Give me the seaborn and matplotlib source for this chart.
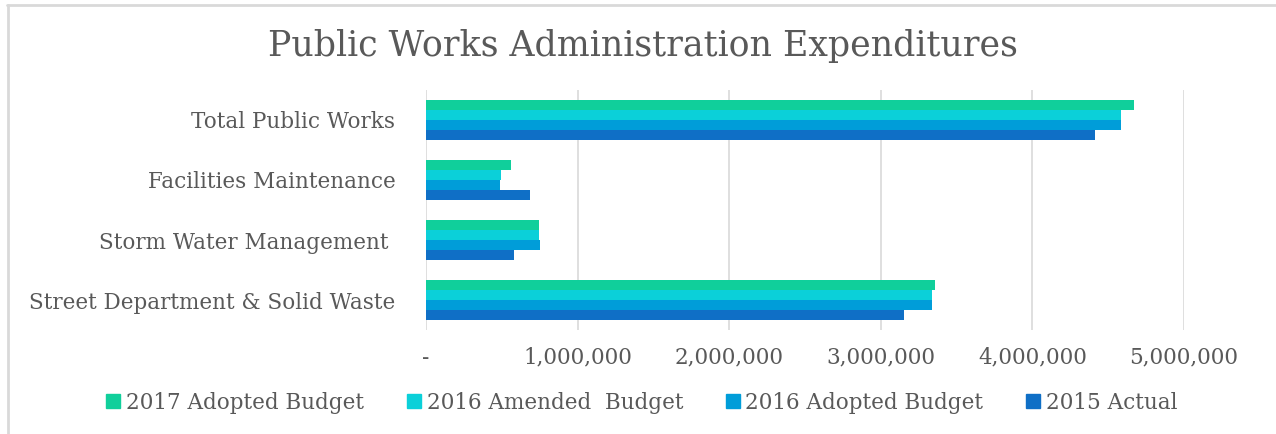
import matplotlib
matplotlib.use("Agg")
import matplotlib.pyplot as plt
from matplotlib.lines import Line2D
from matplotlib.ticker import FuncFormatter, MultipleLocator
import seaborn as sns
import pandas as pd

# Expenditure data (USD)
categories = [
    "Total Public Works",
    "Facilities Maintenance",
    "Storm Water Management ",
    "Street Department & Solid Waste",
]
series_names = [
    "2017 Adopted Budget",
    "2016 Amended  Budget",
    "2016 Adopted Budget",
    "2015 Actual",
]
adopted_2017 = [4670000, 563000, 748000, 3355000]
amended_2016 = [4584000, 497000, 748000, 3338000]
adopted_2016 = [4584000, 485000, 750000, 3338000]
actual_2015 = [4416000, 684000, 583000, 3152000]
series_colors = ["#10CF9B", "#0BD0D9", "#009DD9", "#0F6FC6"]

values = [adopted_2017, amended_2016, adopted_2016, actual_2015]
df = pd.DataFrame(
    [
        {"Category": cat, "Series": name, "Amount": vals[i]}
        for name, vals in zip(series_names, values)
        for i, cat in enumerate(categories)
    ]
)

sns.set_theme(style="white")
plt.rcParams["font.family"] = ["DejaVu Serif"]
text_color = "#595959"
grid_color = "#D9D9D9"

fig = plt.figure(figsize=(12.76, 4.34), dpi=100)
ax = fig.add_axes([426 / 1276, 1 - 330 / 434, (1184 - 426) / 1276, 240 / 434])

sns.barplot(
    data=df,
    x="Amount",
    y="Category",
    hue="Series",
    order=categories,
    hue_order=series_names,
    palette=series_colors,
    orient="h",
    width=0.667,
    linewidth=0,
    saturation=1,
    errorbar=None,
    legend=False,
    ax=ax,
)

ax.set_xlim(0, 5000000)
ax.set_ylim(3.5, -0.5)
ax.xaxis.set_major_locator(MultipleLocator(1000000))
ax.xaxis.set_major_formatter(
    FuncFormatter(lambda v, _: "-" if v == 0 else f"{int(v):,}")
)
ax.grid(axis="x", color=grid_color, linewidth=1.2)
ax.grid(axis="y", visible=False)
ax.set_axisbelow(True)
for side in ["top", "right", "bottom", "left"]:
    ax.spines[side].set_visible(False)
ax.set_xlabel("")
ax.set_ylabel("")
ax.tick_params(axis="x", length=0, pad=12, labelsize=15.5, labelcolor=text_color)
ax.tick_params(axis="y", length=0, pad=22, labelsize=15.5, labelcolor=text_color)

fig.suptitle(
    "Public Works Administration Expenditures",
    x=643 / 1276,
    y=1 - 46 / 434,
    va="center",
    fontsize=25,
    color=text_color,
)

handles = [
    Line2D([0], [0], marker="s", linestyle="none", markersize=10,
           markerfacecolor=c, markeredgecolor=c)
    for c in series_colors
]
fig.legend(
    handles,
    series_names,
    loc="center",
    bbox_to_anchor=(641 / 1276, 1 - 403 / 434),
    ncol=4,
    frameon=False,
    fontsize=15.5,
    labelcolor=text_color,
    handletextpad=0.2,
    columnspacing=1.9,
    handlelength=0.8,
)

# Outer frame lines along the top and left edges
fig.add_artist(Line2D([7 / 1276, 1], [1 - 4.5 / 434, 1 - 4.5 / 434],
                      color=grid_color, linewidth=2, transform=fig.transFigure))
fig.add_artist(Line2D([7.5 / 1276, 7.5 / 1276], [0, 1 - 4.5 / 434],
                      color=grid_color, linewidth=2, transform=fig.transFigure))

fig.savefig("out.png", dpi=100, facecolor="white")
